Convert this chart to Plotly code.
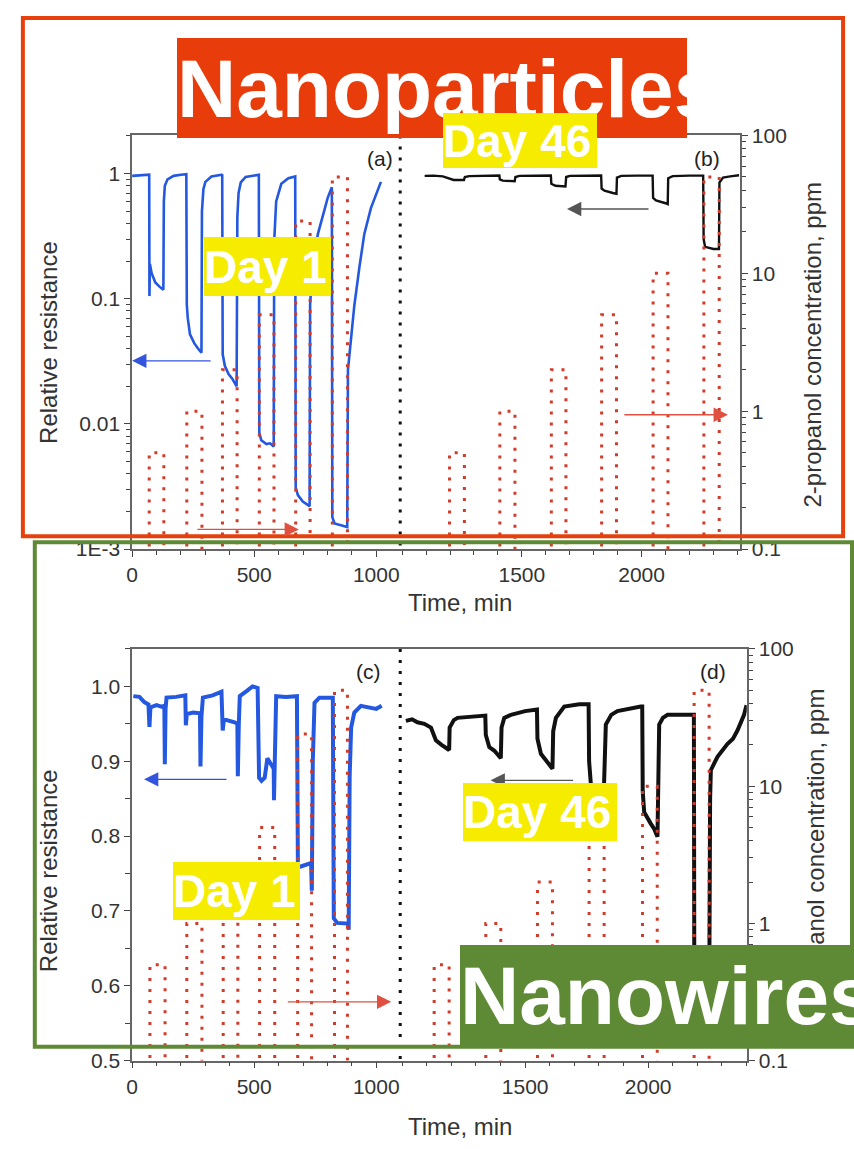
import plotly.graph_objects as go

W, H = 854, 1149
def PX(x): return x / W
def PY(y): return 1 - y / H

# ---------------- data ----------------
# Top-left (a): nanoparticles, day 1, relative resistance (log)
tl_t = [0, 30, 68, 70, 71, 73, 80, 95, 112, 128, 130, 134, 145, 170, 200, 222,
        224, 228, 237, 255, 270, 284, 286, 292, 300, 325, 366, 369,
        371, 380, 395, 410, 428, 431, 436, 445, 465, 500, 519,
        521, 529, 550, 565, 580, 582, 590, 611, 640, 668,
        670, 679, 699, 727, 729, 740, 761, 781, 801, 818,
        820, 829, 856, 881, 884, 897, 910, 931, 951, 978, 1000, 1019]
tl_r = [0.96, 0.97, 0.98, 0.98, 0.105, 0.19, 0.16, 0.135, 0.125, 0.118, 0.6, 0.8, 0.9, 0.96, 0.98, 0.99,
        0.09, 0.07, 0.052, 0.044, 0.040, 0.037, 0.5, 0.75, 0.86, 0.95, 0.98, 0.99,
        0.036, 0.029, 0.025, 0.023, 0.020, 0.45, 0.7, 0.85, 0.94, 0.97, 0.98,
        0.0085, 0.0074, 0.0069, 0.0070, 0.0066, 0.29, 0.6, 0.83, 0.92, 0.95,
        0.0031, 0.0027, 0.0024, 0.0022, 0.09, 0.19, 0.33, 0.47, 0.64, 0.78,
        0.0018, 0.0016, 0.00155, 0.0015, 0.027, 0.048, 0.088, 0.18, 0.33, 0.53, 0.7, 0.86]

# Top-right (b): nanoparticles, day 46
tr_t = [1094, 1130, 1170, 1200, 1215, 1258, 1262, 1280, 1350, 1406,
        1408, 1420, 1470, 1473, 1490, 1550, 1621,
        1623, 1640, 1682, 1685, 1700, 1760, 1831,
        1833, 1845, 1880, 1895, 1897, 1915, 1980, 2046,
        2048, 2060, 2100, 2109, 2111, 2130, 2200, 2257,
        2259, 2265, 2300, 2323, 2325, 2340, 2370, 2407]
tr_r = [0.96, 0.965, 0.95, 0.91, 0.89, 0.89, 0.94, 0.955, 0.96, 0.965,
        0.90, 0.88, 0.87, 0.94, 0.96, 0.965, 0.965,
        0.83, 0.80, 0.79, 0.94, 0.96, 0.965, 0.965,
        0.76, 0.73, 0.70, 0.69, 0.93, 0.96, 0.965, 0.965,
        0.64, 0.61, 0.58, 0.57, 0.92, 0.955, 0.965, 0.965,
        0.30, 0.26, 0.25, 0.25, 0.85, 0.93, 0.95, 0.97]

# Bottom-left (c): nanowires, day 1 (linear)
bl_t = [5, 30, 50, 67, 71, 75, 100, 120, 132, 134, 137, 141, 180, 218,
        220, 224, 250, 278, 280, 284, 290, 330, 366,
        371, 376, 400, 420, 431, 433, 437, 441, 470, 493, 514,
        520, 530, 543, 554, 565, 577, 580, 581, 585, 590, 630, 675,
        679, 700, 733, 736, 740, 747, 767, 822,
        826, 840, 860, 883, 887, 891, 897, 910, 937, 978, 1000, 1022]
bl_r = [0.987, 0.986, 0.979, 0.976, 0.946, 0.972, 0.975, 0.973, 0.974, 0.896, 0.97, 0.985, 0.986, 0.988,
        0.948, 0.963, 0.965, 0.964, 0.893, 0.96, 0.985, 0.988, 0.993,
        0.941, 0.956, 0.954, 0.952, 0.950, 0.880, 0.95, 0.987, 0.994, 1.0, 0.998,
        0.878, 0.874, 0.878, 0.904, 0.898, 0.893, 0.890, 0.848, 0.9, 0.987, 0.986, 0.987,
        0.758, 0.760, 0.764, 0.727, 0.9, 0.978, 0.985, 0.985,
        0.690, 0.684, 0.683, 0.683, 0.675, 0.88, 0.945, 0.965, 0.974, 0.972, 0.970, 0.974]

# Bottom-right (d): nanowires, day 46 (linear)
br_t = [1015, 1040, 1062, 1090, 1117, 1123, 1137, 1160, 1184, 1191, 1193, 1210, 1225, 1280, 1338,
        1340, 1354, 1375, 1394, 1401, 1404, 1415, 1442, 1500, 1548,
        1550, 1564, 1590, 1604, 1611, 1614, 1625, 1659, 1720, 1758,
        1760, 1767, 1790, 1819, 1821, 1828, 1850, 1875, 1970, 1976,
        1978, 1984, 2010, 2024, 2038, 2040, 2045, 2060, 2079, 2180, 2186,
        2188, 2248, 2252, 2255, 2270, 2282, 2322, 2345, 2363, 2390, 2400]
br_r = [0.954, 0.956, 0.952, 0.950, 0.945, 0.940, 0.928, 0.922, 0.917, 0.915, 0.945, 0.955, 0.958, 0.960, 0.961,
        0.935, 0.919, 0.914, 0.906, 0.904, 0.945, 0.958, 0.962, 0.967, 0.969,
        0.93, 0.910, 0.900, 0.893, 0.890, 0.94, 0.958, 0.973, 0.976, 0.976,
        0.90, 0.87, 0.86, 0.85, 0.88, 0.949, 0.962, 0.967, 0.973, 0.973,
        0.86, 0.832, 0.817, 0.810, 0.799, 0.88, 0.949, 0.958, 0.962, 0.962, 0.962,
        0.56, 0.56, 0.85, 0.888, 0.898, 0.906, 0.923, 0.930, 0.941, 0.962, 0.975]

# 2-propanol pulses (ppm)
tl_on = [70, 224, 370, 521, 670, 820]
tl_off = [130, 286, 430, 581, 729, 882]
tl_c = [0.5, 1, 2, 5, 24, 50]
tr_on = [1198, 1408, 1623, 1833, 2048, 2260]
tr_off = [1260, 1471, 1684, 1895, 2110, 2324]
tr_c = [0.5, 1, 2, 5, 10, 50]
bl_on = [73, 224, 373, 522, 678, 829]
bl_off = [135, 286, 433, 584, 735, 882]
bl_c = [0.5, 1, 2, 5, 24, 50]
br_on = [1130, 1340, 1550, 1760, 1977, 2187]
br_off = [1191, 1401, 1611, 1821, 2037, 2248]
br_c = [0.5, 1, 2, 5, 10, 50]
c_base = 0.05

left_ticks_log = [0.001, 0.01, 0.1, 1]
left_text_log = ["1E-3", "0.01", "0.1", "1"]
lin_ticks = [0.5, 0.6, 0.7, 0.8, 0.9, 1.0]
lin_text = ["0.5", "0.6", "0.7", "0.8", "0.9", "1.0"]
ppm_ticks = [0.1, 1, 10, 100]
ppm_text = ["0.1", "1", "10", "100"]

# ---------------- figure ----------------
BLUE = "#2458E0"
RED = "#D23A2A"
FONT = "Liberation Sans, Arial, sans-serif"

def pulses(on, off, c):
    xs, ys = [], []
    for a, b, v in zip(on, off, c):
        xs += [a, a, b, b, None]
        ys += [c_base, v, v, c_base, None]
    return xs, ys

fig = go.Figure()
dotline = dict(color=RED, width=3, dash="3px,8px")

for (on, off, c, xa, ya) in [(tl_on, tl_off, tl_c, "x", "y2"),
                             (tr_on, tr_off, tr_c, "x2", "y2"),
                             (bl_on, bl_off, bl_c, "x3", "y4"),
                             (br_on, br_off, br_c, "x4", "y4")]:
    xs, ys = pulses(on, off, c)
    fig.add_trace(go.Scatter(x=xs, y=ys, xaxis=xa, yaxis=ya, mode="lines",
                             line=dotline, showlegend=False, hoverinfo="skip"))

fig.add_trace(go.Scatter(x=tl_t, y=tl_r, xaxis="x", yaxis="y", mode="lines",
                         line=dict(color=BLUE, width=2.6), showlegend=False))
fig.add_trace(go.Scatter(x=tr_t, y=tr_r, xaxis="x2", yaxis="y", mode="lines",
                         line=dict(color="#111111", width=2.4), showlegend=False))
fig.add_trace(go.Scatter(x=bl_t, y=bl_r, xaxis="x3", yaxis="y3", mode="lines",
                         line=dict(color=BLUE, width=4), showlegend=False))
fig.add_trace(go.Scatter(x=br_t, y=br_r, xaxis="x4", yaxis="y3", mode="lines",
                         line=dict(color="#111111", width=4), showlegend=False))

tickfont = dict(family=FONT, size=21, color="#333333")
AX = dict(showline=True, linecolor="#666666", linewidth=1.6, ticks="outside",
          ticklen=6, tickcolor="#444444", tickwidth=1.4, showgrid=False,
          zeroline=False, tickfont=tickfont)

top_dom = [PY(548), PY(126)]
bot_dom = [PY(1070), PY(650)]
xl = [PX(127), PX(397)]
xr_top = [PX(397), PX(739)]
xr_bot = [PX(397), PX(746)]
xminor = dict(ticks="outside", ticklen=4, tickcolor="#444444", dtick=100, tick0=0)
logminor = dict(ticks="outside", ticklen=4, tickcolor="#444444", dtick="D1")

fig.update_layout(
    width=W, height=H, autosize=False,
    margin=dict(l=0, r=0, t=0, b=0, pad=0),
    paper_bgcolor="white", plot_bgcolor="white",
    xaxis=dict(AX, domain=xl, range=[0, 1098], anchor="y", tickvals=[0, 500, 1000],
               mirror=True, minor=xminor),
    xaxis2=dict(AX, domain=xr_top, range=[992, 2410], anchor="y", tickvals=[1500, 2000],
                mirror=True, minor=xminor),
    xaxis3=dict(AX, domain=xl, range=[0, 1098], anchor="y3", tickvals=[0, 500, 1000],
                mirror=True, minor=xminor),
    xaxis4=dict(AX, domain=xr_bot, range=[992, 2401], anchor="y3", tickvals=[1500, 2000],
                mirror=True, minor=xminor),
    yaxis=dict(AX, domain=top_dom, type="log", range=[-3, 0.305], anchor="x",
               tickvals=left_ticks_log, ticktext=left_text_log, minor=logminor),
    yaxis2=dict(AX, type="log", range=[-1, 2.0], overlaying="y", side="right", anchor="x2",
                tickvals=ppm_ticks, ticktext=ppm_text, minor=logminor),
    yaxis3=dict(AX, domain=bot_dom, range=[0.5, 1.05], anchor="x3",
                tickvals=lin_ticks, ticktext=lin_text,
                minor=dict(ticks="outside", ticklen=5, tickcolor="#444444", dtick=0.05, tick0=0.5)),
    yaxis4=dict(AX, type="log", range=[-1, 2.0], overlaying="y3", side="right", anchor="x4",
                tickvals=ppm_ticks, ticktext=ppm_text, minor=logminor),
)

shapes = []
# panel separators
for y0, y1 in [(126, 548), (650, 1070)]:
    shapes.append(dict(type="line", xref="paper", yref="paper", x0=PX(397), x1=PX(397),
                       y0=PY(y0), y1=PY(y1), line=dict(color="#111111", width=3, dash="3px,8px")))
# frames
shapes.append(dict(type="rect", xref="paper", yref="paper", x0=PX(17), x1=PX(843),
                   y0=PY(535), y1=PY(6), line=dict(color="#E8400C", width=4), layer="above"))
shapes.append(dict(type="rect", xref="paper", yref="paper", x0=PX(29), x1=PX(852),
                   y0=PY(1056), y1=PY(541), line=dict(color="#5E8A36", width=4), layer="above"))

ann = []
def text(x, y, s, size=20, color="#333333", angle=0, xanchor="center", yanchor="middle"):
    ann.append(dict(xref="paper", yref="paper", x=PX(x), y=PY(y), text=s, showarrow=False,
                    textangle=angle, xanchor=xanchor, yanchor=yanchor,
                    font=dict(family=FONT, size=size, color=color)))

text(43, 337, "Relative resistance", 24, angle=-90)
text(43, 876, "Relative resistance", 24, angle=-90)
text(812, 339, "2-propanol concentration, ppm", 24, angle=-90)
text(816, 856, "2-propanol concentration, ppm", 24, angle=-90)
text(457, 603, "Time, min", 24)
text(457, 1137, "Time, min", 24)
text(377, 150, "(a)", 21, "#222222")
text(706, 150, "(b)", 21, "#222222")
text(365, 673, "(c)", 21, "#222222")
text(712, 673, "(d)", 21, "#222222")

def arrow(hx, hy, tx, ty, color, lw=1.3):
    ann.append(dict(xref="paper", yref="paper", x=PX(hx), y=PY(hy), ax=tx - hx, ay=ty - hy,
                    axref="pixel", ayref="pixel", text="", showarrow=True, arrowhead=2,
                    arrowsize=2.2, arrowwidth=lw, arrowcolor=color))

arrow(127, 356, 207, 356, "#3355DD")
arrow(295, 528, 192, 528, "#E05040")
arrow(565, 201, 648, 201, "#555555")
arrow(727, 411, 622, 411, "#E05040")
arrow(139, 783, 223, 783, "#3355DD")
arrow(388, 1010, 283, 1010, "#E05040")
arrow(488, 784, 572, 784, "#555555")

def label(x0, y0, w, h, s, bg, size):
    ann.append(dict(xref="paper", yref="paper", x=PX(x0), y=PY(y0), xanchor="left", yanchor="top",
                    width=w, height=h, bgcolor=bg, borderpad=0, borderwidth=0,
                    align="left", valign="middle", showarrow=False,
                    text="<b>" + s + "</b>", font=dict(family=FONT, size=size, color="white")))

label(172, 27, 510, 100, "Nanoparticles", "#E83D0A", 82)
label(440, 103, 154, 55, "Day 46", "#F6EC00", 46)
label(199, 230, 127, 59, "Day 1", "#F6EC00", 46)
label(168, 867, 127, 58, "Day 1", "#F6EC00", 46)
label(460, 787, 154, 58, "Day 46", "#F6EC00", 46)
label(457, 952, 395, 100, "Nanowires", "#5E8A36", 82)

fig.update_layout(shapes=shapes, annotations=ann)
fig.write_html("out.html", config={"displayModeBar": False},
               post_script="document.body.style.margin='0px';document.body.style.padding='0px';"
                           "document.documentElement.style.margin='0px';document.body.style.overflow='hidden';")
